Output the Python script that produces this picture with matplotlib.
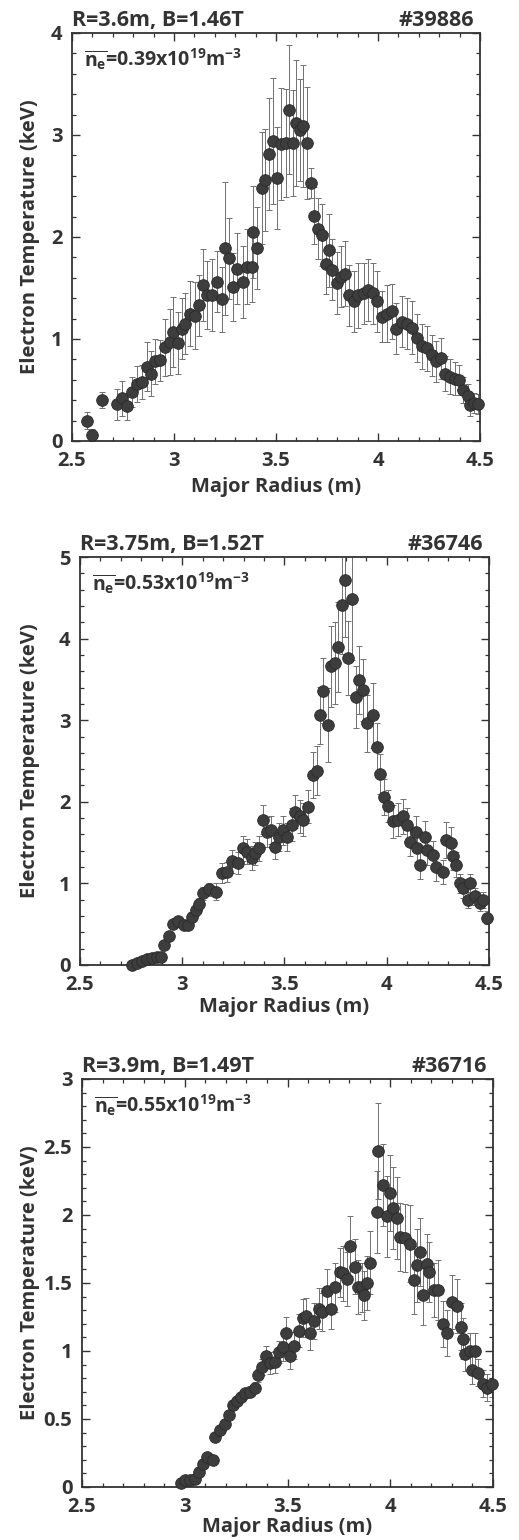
import matplotlib
matplotlib.use("Agg")
import matplotlib.pyplot as plt
from matplotlib.ticker import MultipleLocator, FormatStrFormatter
import numpy as np

plt.rcParams['font.family'] = ['Open Sans', 'DejaVu Sans']
plt.rcParams['font.weight'] = 'bold'
plt.rcParams['mathtext.fontset'] = 'custom'
plt.rcParams['mathtext.rm'] = 'Open Sans:bold'
plt.rcParams['mathtext.it'] = 'Open Sans:bold'
plt.rcParams['mathtext.bf'] = 'Open Sans:bold'

# ---------------- Panel 1: #39886 ----------------
r1 = [2.575, 2.596, 2.645, 2.719, 2.743, 2.768, 2.792, 2.817, 2.841, 2.866, 2.886, 2.907,
      2.931, 2.956, 2.980, 2.997, 3.021, 3.038, 3.054, 3.078, 3.103, 3.124, 3.144, 3.160,
      3.185, 3.209, 3.234, 3.250, 3.271, 3.291, 3.311, 3.337, 3.356, 3.381, 3.389, 3.409,
      3.430, 3.446, 3.467, 3.484, 3.503, 3.525, 3.549, 3.562, 3.582, 3.598, 3.618, 3.634,
      3.650, 3.672, 3.688, 3.707, 3.727, 3.745, 3.761, 3.773, 3.797, 3.817, 3.838, 3.859,
      3.882, 3.904, 3.929, 3.953, 3.974, 3.997, 4.018, 4.043, 4.067, 4.088, 4.116, 4.140,
      4.165, 4.189, 4.214, 4.238, 4.263, 4.284, 4.307, 4.328, 4.353, 4.377, 4.399, 4.418,
      4.443, 4.451, 4.471, 4.492]
te1 = [0.20, 0.06, 0.40, 0.36, 0.42, 0.34, 0.48, 0.56, 0.58, 0.73, 0.66, 0.78,
       0.79, 0.92, 0.97, 1.07, 0.96, 1.10, 1.15, 1.25, 1.23, 1.33, 1.53, 1.43,
       1.43, 1.56, 1.39, 1.89, 1.79, 1.51, 1.69, 1.56, 1.71, 1.71, 2.05, 1.89,
       2.48, 2.56, 2.81, 2.94, 2.58, 2.91, 2.92, 3.25, 2.92, 3.12, 3.05, 3.09,
       2.92, 2.53, 2.21, 2.08, 2.02, 1.74, 1.87, 1.68, 1.55, 1.61, 1.64, 1.43,
       1.37, 1.43, 1.45, 1.48, 1.45, 1.37, 1.22, 1.25, 1.27, 1.10, 1.17, 1.15,
       1.11, 1.01, 0.93, 0.91, 0.84, 0.78, 0.81, 0.66, 0.63, 0.61, 0.60, 0.50,
       0.44, 0.35, 0.37, 0.36]
err1 = [0.08, 0.06, 0.08, 0.15, 0.17, 0.13, 0.15, 0.18, 0.17, 0.24, 0.22, 0.22,
        0.20, 0.28, 0.32, 0.34, 0.30, 0.30, 0.30, 0.32, 0.33, 0.30, 0.35, 0.33,
        0.35, 0.30, 0.32, 0.65, 0.40, 0.33, 0.35, 0.35, 0.37, 0.35, 0.45, 0.40,
        0.55, 0.50, 0.55, 0.62, 0.50, 0.55, 0.53, 0.63, 0.52, 0.62, 0.50, 0.60,
        0.55, 0.15, 0.28, 0.30, 0.30, 0.30, 0.36, 0.30, 0.30, 0.30, 0.32, 0.30,
        0.30, 0.32, 0.30, 0.30, 0.30, 0.30, 0.25, 0.28, 0.27, 0.25, 0.25, 0.25,
        0.26, 0.24, 0.22, 0.22, 0.20, 0.20, 0.20, 0.17, 0.17, 0.16, 0.15, 0.13,
        0.12, 0.10, 0.10, 0.10]

# ---------------- Panel 2: #36746 ----------------
r2 = [2.753, 2.777, 2.802, 2.826, 2.850, 2.875, 2.896, 2.911, 2.935, 2.956, 2.978, 3.010,
      3.030, 3.046, 3.067, 3.084, 3.103, 3.132, 3.165, 3.193, 3.217, 3.242, 3.274, 3.295,
      3.315, 3.340, 3.356, 3.377, 3.393, 3.413, 3.432, 3.454, 3.475, 3.494, 3.511, 3.535,
      3.551, 3.576, 3.592, 3.616, 3.638, 3.660, 3.674, 3.690, 3.711, 3.726, 3.747, 3.763,
      3.779, 3.796, 3.812, 3.829, 3.850, 3.866, 3.882, 3.902, 3.934, 3.950, 3.967, 3.985,
      4.007, 4.032, 4.056, 4.081, 4.100, 4.116, 4.143, 4.150, 4.163, 4.187, 4.198, 4.227,
      4.243, 4.276, 4.292, 4.312, 4.325, 4.341, 4.358, 4.374, 4.399, 4.407, 4.431, 4.456,
      4.469, 4.492]
te2 = [0.00, 0.03, 0.05, 0.07, 0.09, 0.10, 0.10, 0.25, 0.36, 0.50, 0.54, 0.49,
       0.49, 0.59, 0.67, 0.75, 0.88, 0.93, 0.90, 1.13, 1.14, 1.27, 1.25, 1.43,
       1.39, 1.31, 1.37, 1.43, 1.78, 1.63, 1.65, 1.45, 1.57, 1.65, 1.57, 1.72,
       1.88, 1.82, 1.78, 1.94, 2.33, 2.38, 3.06, 3.36, 2.94, 3.66, 3.70, 3.90,
       4.41, 4.72, 3.76, 4.49, 3.29, 3.49, 3.37, 2.96, 3.06, 2.67, 2.34, 2.06,
       1.95, 1.76, 1.78, 1.82, 1.72, 1.51, 1.63, 1.43, 1.23, 1.57, 1.41, 1.35,
       1.20, 1.14, 1.53, 1.49, 1.33, 1.23, 1.00, 0.94, 0.80, 1.00, 0.84, 0.76,
       0.80, 0.58]
err2 = [0.00, 0.00, 0.00, 0.00, 0.00, 0.01, 0.02, 0.03, 0.04, 0.05, 0.05, 0.05,
        0.05, 0.06, 0.07, 0.07, 0.08, 0.08, 0.10, 0.12, 0.12, 0.14, 0.14, 0.15,
        0.15, 0.15, 0.14, 0.15, 0.18, 0.18, 0.17, 0.15, 0.17, 0.18, 0.17, 0.20,
        0.20, 0.20, 0.20, 0.20, 0.28, 0.30, 0.35, 0.40, 0.45, 0.50, 0.50, 0.55,
        0.60, 0.70, 0.45, 0.75, 0.38, 0.42, 0.38, 0.35, 0.40, 0.30, 0.25, 0.22,
        0.20, 0.20, 0.20, 0.22, 0.20, 0.18, 0.20, 0.17, 0.17, 0.20, 0.18, 0.17,
        0.17, 0.15, 0.22, 0.20, 0.17, 0.15, 0.12, 0.12, 0.10, 0.12, 0.10, 0.10,
        0.10, 0.08]

# ---------------- Panel 3: #36716 ----------------
r3 = [2.982, 3.003, 3.027, 3.051, 3.068, 3.087, 3.108, 3.136, 3.149, 3.173, 3.194, 3.214,
      3.233, 3.254, 3.275, 3.295, 3.319, 3.340, 3.356, 3.376, 3.397, 3.416, 3.438, 3.457,
      3.477, 3.493, 3.514, 3.533, 3.554, 3.575, 3.590, 3.611, 3.627, 3.652, 3.666, 3.690,
      3.714, 3.731, 3.755, 3.772, 3.788, 3.804, 3.828, 3.845, 3.861, 3.872, 3.888, 3.901,
      3.934, 3.942, 3.963, 3.983, 3.999, 4.015, 4.034, 4.047, 4.072, 4.096, 4.115, 4.128,
      4.144, 4.161, 4.177, 4.190, 4.212, 4.233, 4.255, 4.275, 4.299, 4.324, 4.343, 4.356,
      4.364, 4.388, 4.396, 4.412, 4.428, 4.450, 4.469, 4.494]
te3 = [0.03, 0.05, 0.05, 0.06, 0.11, 0.17, 0.22, 0.20, 0.37, 0.42, 0.46, 0.53,
       0.60, 0.63, 0.66, 0.69, 0.70, 0.73, 0.82, 0.88, 0.96, 0.91, 0.92, 0.99,
       1.03, 1.13, 0.96, 1.04, 1.15, 1.24, 1.26, 1.13, 1.22, 1.31, 1.29, 1.44,
       1.31, 1.47, 1.58, 1.57, 1.53, 1.77, 1.62, 1.47, 1.47, 1.41, 1.50, 1.65,
       2.02, 2.47, 2.22, 1.99, 2.16, 2.05, 1.98, 1.84, 1.83, 1.79, 1.52, 1.63,
       1.73, 1.41, 1.64, 1.58, 1.45, 1.45, 1.20, 1.13, 1.36, 1.33, 1.18, 1.09,
       0.98, 1.00, 0.86, 1.00, 0.84, 0.76, 0.73, 0.76]
err3 = [0.01, 0.01, 0.01, 0.01, 0.01, 0.01, 0.01, 0.01, 0.01, 0.01, 0.02, 0.02,
        0.02, 0.03, 0.03, 0.03, 0.04, 0.04, 0.05, 0.06, 0.08, 0.08, 0.08, 0.08,
        0.10, 0.12, 0.09, 0.10, 0.12, 0.14, 0.13, 0.12, 0.13, 0.15, 0.14, 0.16,
        0.15, 0.18, 0.18, 0.20, 0.20, 0.22, 0.20, 0.20, 0.18, 0.18, 0.20, 0.23,
        0.30, 0.35, 0.30, 0.30, 0.28, 0.30, 0.30, 0.25, 0.25, 0.28, 0.25, 0.27,
        0.25, 0.22, 0.22, 0.22, 0.20, 0.22, 0.17, 0.17, 0.20, 0.20, 0.17, 0.15,
        0.13, 0.13, 0.10, 0.13, 0.10, 0.10, 0.10, 0.10]

panels = [
    dict(r=r1, t=te1, e=err1, ymax=4, ymajor=1, yminor=0.2, fmt='%d',
         left="R=3.6m, B=1.46T", right="#39886", ne="0.39",
         pos=[72, 33, 408, 408], xl=36),
    dict(r=r2, t=te2, e=err2, ymax=5, ymajor=1, yminor=0.2, fmt='%d',
         left="R=3.75m, B=1.52T", right="#36746", ne="0.53",
         pos=[80, 557, 409, 408], xl=32),
    dict(r=r3, t=te3, e=err3, ymax=3, ymajor=0.5, yminor=0.1, fmt='%g',
         left="R=3.9m, B=1.49T", right="#36716", ne="0.55",
         pos=[82, 1079, 411, 408], xl=30),
]

W, H = 519, 1540
fig = plt.figure(figsize=(W / 100, H / 100), dpi=100)
ink = '#333333'
fs = 14.5

for p in panels:
    x0, y0, w, h = p['pos']
    ax = fig.add_axes([x0 / W, 1 - (y0 + h) / H, w / W, h / H])
    ax.errorbar(p['r'], p['t'], yerr=p['e'], fmt='none', ecolor='#707070',
                elinewidth=0.7, capsize=2.2, capthick=0.7, zorder=2)
    ax.plot(p['r'], p['t'], 'o', ms=8.4, color='#3d3d3d', mec='#2a2a2a',
            mew=0.6, zorder=3, clip_on=False)
    ax.set_xlim(2.5, 4.5)
    ax.set_ylim(0, p['ymax'])
    ax.xaxis.set_major_locator(MultipleLocator(0.5))
    ax.xaxis.set_minor_locator(MultipleLocator(0.1))
    ax.yaxis.set_major_locator(MultipleLocator(p['ymajor']))
    ax.yaxis.set_minor_locator(MultipleLocator(p['yminor']))
    ax.xaxis.set_major_formatter(FormatStrFormatter('%g'))
    ax.yaxis.set_major_formatter(FormatStrFormatter(p['fmt']))
    ax.tick_params(which='both', direction='in', top=True, right=True,
                   color=ink, labelcolor=ink, labelsize=fs)
    ax.tick_params(which='major', length=6, width=1.0)
    ax.tick_params(which='minor', length=3.2, width=0.9)
    ax.tick_params(axis='x', which='major', pad=7)
    ax.tick_params(axis='y', which='major', pad=7)
    for s in ax.spines.values():
        s.set_color(ink)
        s.set_linewidth(1.3)
    for lab in ax.get_xticklabels() + ax.get_yticklabels():
        lab.set_fontweight('bold')
    ax.set_xlabel('Major Radius (m)', fontsize=fs, fontweight='bold', color=ink)
    ax.set_ylabel('Electron Temperature (keV)', fontsize=fs, fontweight='bold',
                  color=ink)
    ax.yaxis.set_label_coords((40 - x0) / w, 0.5)
    ax.xaxis.set_label_coords(0.5, -p['xl'] / h)
    ax.text(0.0, 1.006, p['left'], transform=ax.transAxes, ha='left',
            va='bottom', fontsize=15.5, fontweight='bold', color=ink)
    ax.text(0.985, 1.006, p['right'], transform=ax.transAxes, ha='right',
            va='bottom', fontsize=15.5, fontweight='bold', color=ink)
    ax.text(0.03, 0.965,
            r'$\overline{n_e}$=' + p['ne'] + r'x10$^{19}$m$^{-3}$',
            transform=ax.transAxes, ha='left', va='top', fontsize=fs - 0.5,
            fontweight='bold', color=ink)

fig.savefig('out.png', dpi=100, facecolor='white')
